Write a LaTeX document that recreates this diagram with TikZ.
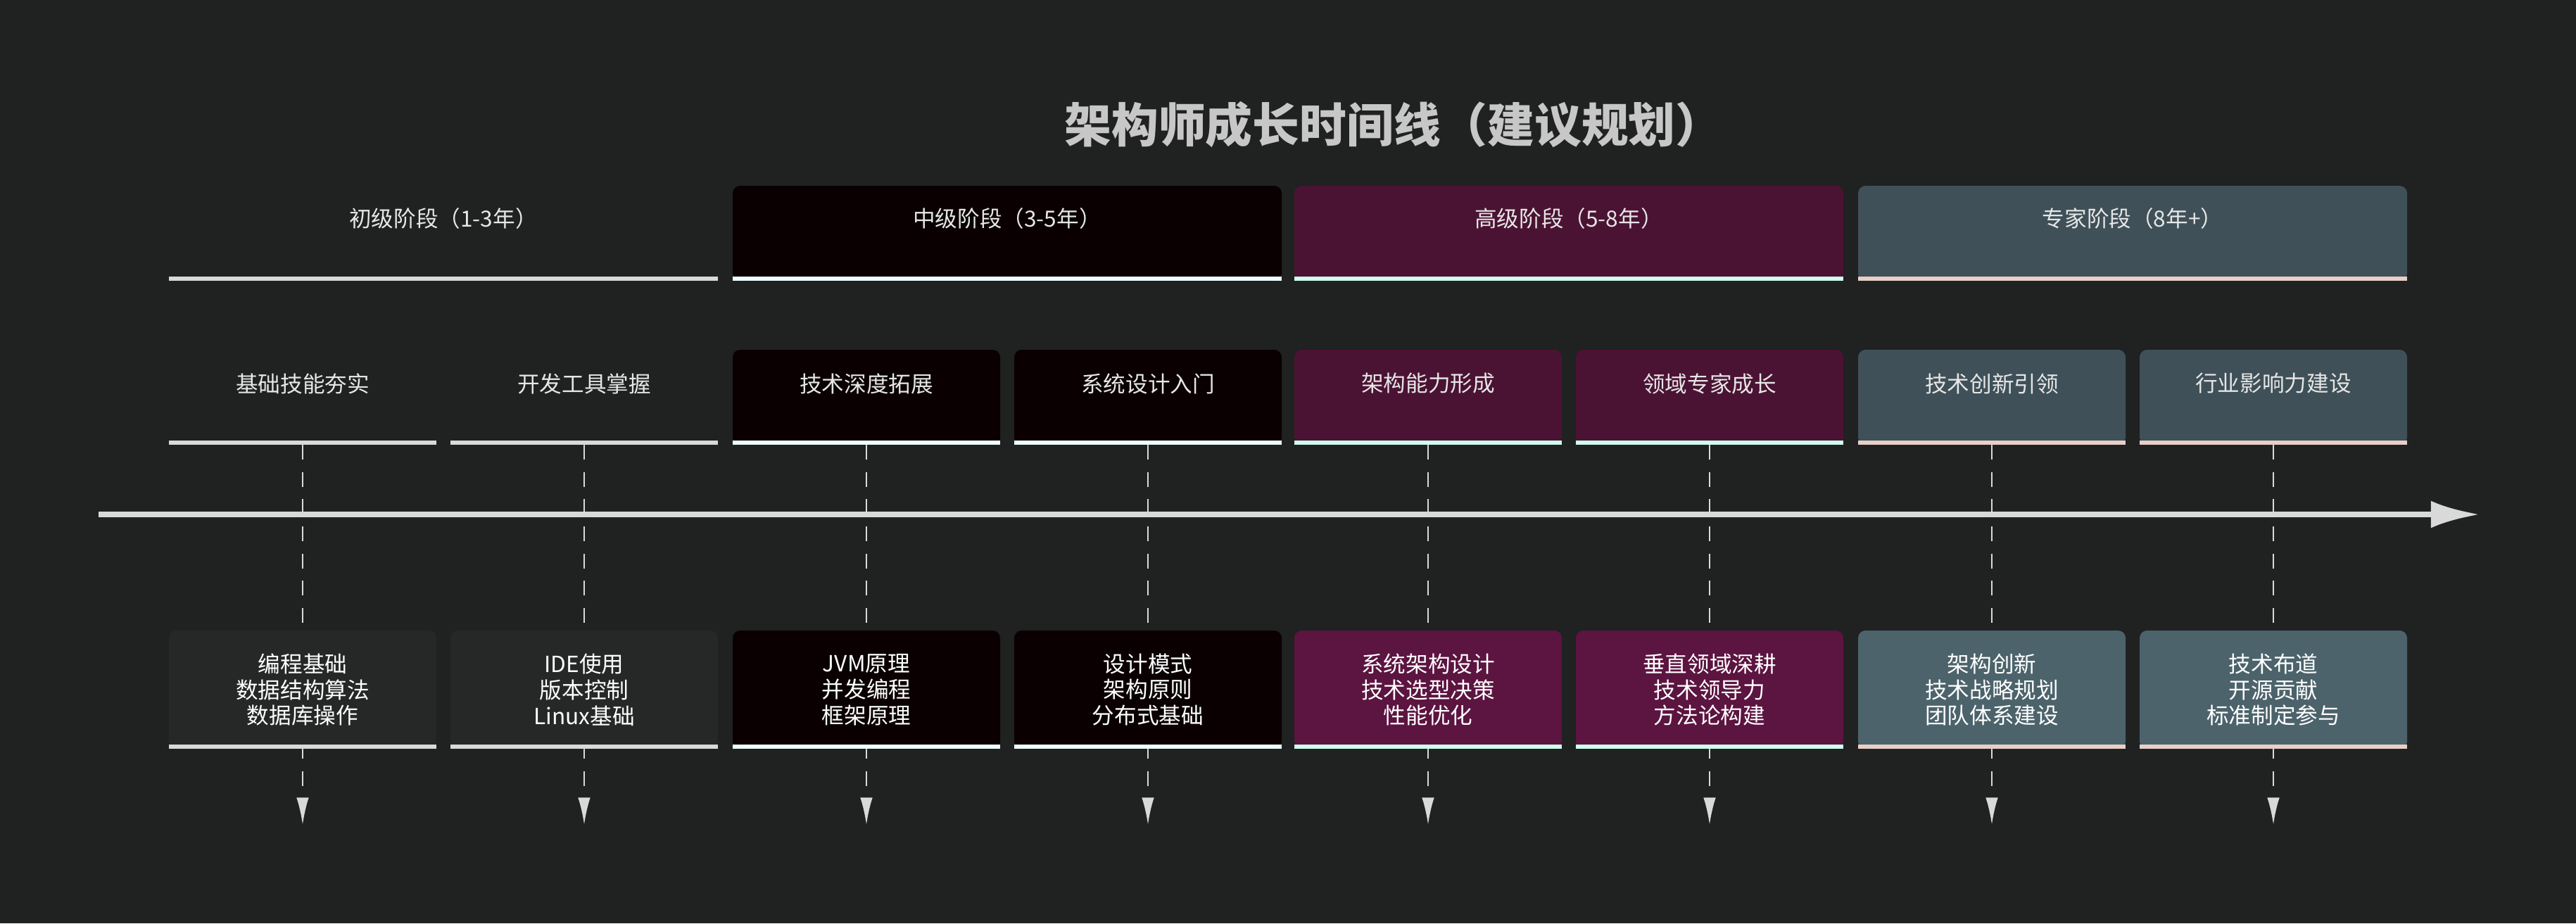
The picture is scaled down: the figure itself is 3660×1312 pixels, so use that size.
\documentclass[tikz,border=0pt]{standalone}
\usepackage{fontspec}
\setmainfont{Noto Sans CJK SC}
\usetikzlibrary{positioning,arrows.meta}
\definecolor{bgc}{HTML}{202121}
\definecolor{txtc}{HTML}{E6E6E6}
\definecolor{phaseA}{HTML}{202222}\definecolor{detA}{HTML}{262828}\definecolor{barA}{HTML}{D9D9D9}
\definecolor{phaseB}{HTML}{0A0002}\definecolor{detB}{HTML}{0A0002}\definecolor{barB}{HTML}{F0FFFF}
\definecolor{phaseC}{HTML}{4B1333}\definecolor{detC}{HTML}{5C1440}\definecolor{barC}{HTML}{D0FFF0}
\definecolor{phaseD}{HTML}{3F5058}\definecolor{detD}{HTML}{4C636B}\definecolor{barD}{HTML}{E8CFC8}
\tikzset{
  box/.style={rounded corners=6pt, inner sep=0pt, text=txtc, align=center},
  lbl/.style={text=txtc, font=\fontsize{18}{22}\selectfont, align=center},
  detail/.style={text=white, font=\fontsize{18}{21}\selectfont, align=center},
  guide/.style={draw=white!85!black, line width=1.6pt, dash pattern=on 12pt off 10pt},
}
\begin{document}
\begin{tikzpicture}[x=0.02cm, y=-0.02cm]
  \fill[bgc] (0,0) rectangle (3660,1312);
  \useasboundingbox (0,0) rectangle (3660,1312);

  % title
  \node[text=white!78!black, font=\bfseries\fontsize{38}{44}\selectfont] (title) at (1980,177) {架构师成长时间线（建议规划）};

  % timeline axis
  \coordinate (axs) at (140,731);
  \coordinate (axe) at (3524,731);
  \draw[white!85!black, line width=5pt, -{Latex[length=40pt,width=22pt]}] (axs) -- (axe);

  % phases
  \foreach \x/\c/\t [count=\i] in {240/A/初级阶段（1-3年）, 1041/B/中级阶段（3-5年）, 1839/C/高级阶段（5-8年）, 2640/D/专家阶段（8年+）}{
    \fill[phase\c, rounded corners=6pt] (\x,264) rectangle ++(780,135);
    \fill[bar\c] (\x,393) rectangle ++(780,6);
    \node[lbl] (phase\i) at (\x+390,310) {\t};
  }

  % tasks and details
  \foreach \x/\c/\t/\d [count=\i] in {
    240/A/基础技能夯实/编程基础\\数据结构算法\\数据库操作,
    640/A/开发工具掌握/IDE使用\\版本控制\\Linux基础,
    1041/B/技术深度拓展/JVM原理\\并发编程\\框架原理,
    1441/B/系统设计入门/设计模式\\架构原则\\分布式基础,
    1839/C/架构能力形成/系统架构设计\\技术选型决策\\性能优化,
    2239/C/领域专家成长/垂直领域深耕\\技术领导力\\方法论构建,
    2640/D/技术创新引领/架构创新\\技术战略规划\\团队体系建设,
    3040/D/行业影响力建设/技术布道\\开源贡献\\标准制定参与}{
    \coordinate (top\i) at (\x+190,632);
    \coordinate (end\i) at (\x+190,1172);
    \draw[guide, -{Latex[length=22pt,width=10pt]}] (top\i) -- (end\i);
    \fill[phase\c, rounded corners=6pt] (\x,497) rectangle ++(380,135);
    \fill[bar\c] (\x,626) rectangle ++(380,6);
    \node[lbl] (task\i) at (\x+190,545) {\t};
    \fill[det\c, rounded corners=6pt] (\x,896) rectangle ++(380,168);
    \fill[bar\c] (\x,1058) rectangle ++(380,6);
    \node[detail] (det\i) at (\x+190,980) {\d};
  }
\end{tikzpicture}
\end{document}
